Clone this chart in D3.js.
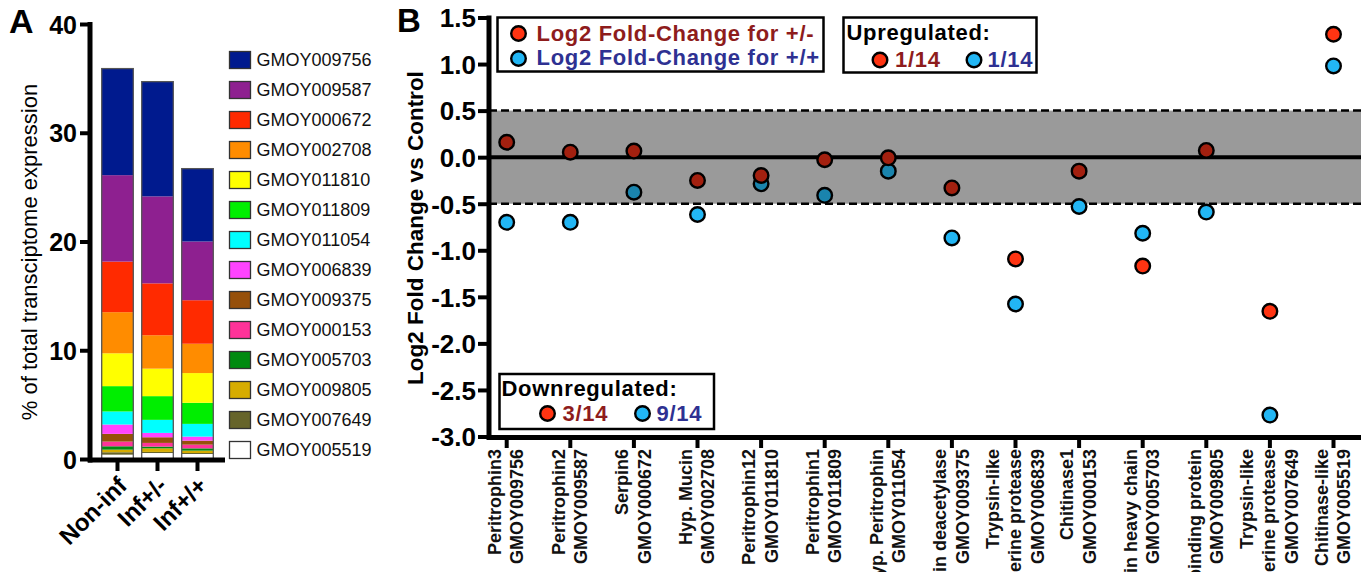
<!DOCTYPE html>
<html>
<head>
<meta charset="utf-8">
<script src="https://cdn.jsdelivr.net/npm/d3@7/dist/d3.min.js"></script>
<style>
  html, body { margin: 0; padding: 0; background: #fff; }
  svg { display: block; font-family: "Liberation Sans", Arial, Helvetica, sans-serif; }
</style>
</head>
<body>
<svg id="chart" width="1361" height="572"></svg>
<script>
// ---------- Panel A data ----------
const groupsA = ["Non-inf", "Inf+/-", "Inf+/+"];
const genesA = ["GMOY009756","GMOY009587","GMOY000672","GMOY002708","GMOY011810","GMOY011809",
  "GMOY011054","GMOY006839","GMOY009375","GMOY000153","GMOY005703","GMOY009805","GMOY007649","GMOY005519"];
const nonInf = [9.8, 7.95, 4.65, 3.78, 3.02, 2.33, 1.20, 0.86, 0.71, 0.43, 0.31, 0.24, 0.22, 0.40];
const infPM  = [10.55, 8.0, 4.77, 3.07, 2.53, 2.18, 1.20, 0.40, 0.52, 0.34, 0.16, 0.33, 0.10, 0.55];
const infPP  = [6.7, 5.4, 4.0, 2.7, 2.73, 1.94, 1.17, 0.37, 0.37, 0.34, 0.21, 0.22, 0.09, 0.46];
const geneColors = ["#001a8e","#8e2090","#ff2a00","#ff8c00","#ffff00","#00ee00","#00ffff",
  "#ff44ff","#96500a","#ff3399","#008a10","#d6ac00","#66642a","#ffffff"];
const yTicksA = [0, 10, 20, 30, 40];

// ---------- Panel B data ----------
const labelsB = [
  ["Peritrophin3","GMOY009756"],
  ["Peritrophin2","GMOY009587"],
  ["Serpin6","GMOY000672"],
  ["Hyp. Mucin","GMOY002708"],
  ["Peritrophin12","GMOY011810"],
  ["Peritrophin1","GMOY011809"],
  ["Hyp. Peritrophin","GMOY011054"],
  ["Chitin deacetylase","GMOY009375"],
  ["Trypsin-like","Serine protease","GMOY006839"],
  ["Chitinase1","GMOY000153"],
  ["Myosin heavy chain","GMOY005703"],
  ["Chitin binding protein","GMOY009805"],
  ["Trypsin-like","Serine protease","GMOY007649"],
  ["Chitinase-like","GMOY005519"]
];
const fcPM = [0.16, 0.054, 0.065, -0.25, -0.197, -0.028, -0.007, -0.33, -1.093, -0.15, -1.17, 0.072, -1.656, 1.32];
const fcPP = [-0.70, -0.70, -0.376, -0.616, -0.286, -0.41, -0.15, -0.867, -1.577, -0.53, -0.817, -0.59, -2.77, 0.98];
const yTicksB = [1.5, 1.0, 0.5, 0.0, -0.5, -1.0, -1.5, -2.0, -2.5, -3.0];
const threshold = 0.5;
const upCounts = ["1/14", "1/14"];
const downCounts = ["3/14", "9/14"];
const legendLabels = ["Log2 Fold-Change for +/-", "Log2 Fold-Change for +/+"];

// ---------- styles ----------
const RED = "#ff3412", RED_DK = "#a3200f", BLUE = "#22b6f4", BLUE_DK = "#1a84ad";
const TXT_RED = "#8e1c1c", TXT_BLUE = "#2e3192";

const svg = d3.select("#chart");

// ================= PANEL A =================
const gA = svg.append("g");
const xA = d3.scaleBand().domain(groupsA).range([97.5, 217.5]).paddingInner(0.21).paddingOuter(0.105);
const yA = d3.scaleLinear().domain([0, 40]).range([459, 24]);

const tableA = groupsA.map((g, gi) => {
  const row = { group: g };
  const src = [nonInf, infPM, infPP][gi];
  genesA.forEach((k, i) => row[k] = src[i]);
  return row;
});
const stackA = d3.stack().keys(genesA.slice().reverse())(tableA);
const colorA = d3.scaleOrdinal().domain(genesA).range(geneColors);

gA.selectAll("g.layer").data(stackA).join("g").attr("class", "layer")
  .attr("fill", d => colorA(d.key))
  .selectAll("rect").data(d => d).join("rect")
  .attr("x", d => xA(d.data.group))
  .attr("width", xA.bandwidth())
  .attr("y", d => yA(d[1]))
  .attr("height", d => yA(d[0]) - yA(d[1]));

// bar outlines
gA.selectAll("rect.outline").data(tableA).join("rect").attr("class", "outline")
  .attr("x", d => xA(d.group))
  .attr("width", xA.bandwidth())
  .attr("y", d => yA(d3.sum(genesA, k => d[k])))
  .attr("height", d => yA(0) - yA(d3.sum(genesA, k => d[k])))
  .attr("fill", "none").attr("stroke", "#555").attr("stroke-width", 1.3);

// y axis A
const axA = gA.append("g").attr("transform", "translate(90,0)")
  .call(d3.axisLeft(yA).tickValues(yTicksA).tickSize(10).tickPadding(3).tickFormat(d3.format("d")));
axA.select(".domain").remove();
axA.selectAll(".tick line").attr("stroke", "#000").attr("stroke-width", 4);
axA.selectAll(".tick text").attr("font-size", 25).attr("font-weight", "bold").attr("fill", "#000")
  .attr("font-family", "Liberation Sans, Arial, sans-serif").attr("dy", "0.36em");
gA.append("line").attr("x1", 90).attr("x2", 90).attr("y1", yA(40) - 2).attr("y2", 462.5)
  .attr("stroke", "#000").attr("stroke-width", 5);

// x axis A
gA.append("line").attr("x1", 88).attr("x2", 225).attr("y1", 460).attr("y2", 460)
  .attr("stroke", "#000").attr("stroke-width", 5);
gA.selectAll("line.xt").data(groupsA).join("line").attr("class", "xt")
  .attr("x1", d => xA(d) + xA.bandwidth() / 2).attr("x2", d => xA(d) + xA.bandwidth() / 2)
  .attr("y1", 460).attr("y2", 471).attr("stroke", "#000").attr("stroke-width", 4);
gA.selectAll("text.xl").data(groupsA).join("text").attr("class", "xl")
  .attr("transform", d => `translate(${xA(d) + xA.bandwidth() / 2 + 11},${487}) rotate(-45)`)
  .attr("text-anchor", "end").attr("font-size", 24).attr("font-weight", "bold").text(d => d);

// y title A
gA.append("text").attr("transform", "translate(37,252) rotate(-90)")
  .attr("text-anchor", "middle").attr("font-size", 22).text("% of total transciptome expression");

// panel letter A
svg.append("text").attr("x", 9).attr("y", 33).attr("font-size", 34).attr("font-weight", "bold").text("A");

// legend A
const legA = gA.selectAll("g.legA").data(genesA).join("g").attr("class", "legA")
  .attr("transform", (d, i) => `translate(229.5,${60 + i * 30})`);
legA.append("rect").attr("x", 0).attr("y", -8.5).attr("width", 21).attr("height", 17)
  .attr("fill", d => colorA(d)).attr("stroke", "#333").attr("stroke-width", 1.3);
legA.append("text").attr("x", 27).attr("y", 0).attr("dy", "0.36em").attr("font-size", 18)
  .attr("fill", "#111").text(d => d);

// ================= PANEL B =================
const gB = svg.append("g");
const xB = d3.scalePoint().domain(d3.range(labelsB.length)).range([506.7, 1333.5]);
const yB = d3.scaleLinear().domain([-3, 1.5]).range([436.5, 17.5]);

// band
gB.append("rect").attr("x", 489).attr("width", 1361 - 489)
  .attr("y", yB(threshold)).attr("height", yB(-threshold) - yB(threshold)).attr("fill", "#9a9a9a");
[threshold, -threshold].forEach(v => {
  gB.append("line").attr("x1", 489).attr("x2", 1361).attr("y1", yB(v)).attr("y2", yB(v))
    .attr("stroke", "#000").attr("stroke-width", 2.5).attr("stroke-dasharray", "8,4");
});
gB.append("line").attr("x1", 489).attr("x2", 1361).attr("y1", yB(0)).attr("y2", yB(0))
  .attr("stroke", "#000").attr("stroke-width", 4);

// y axis B
const axB = gB.append("g").attr("transform", "translate(489,0)")
  .call(d3.axisLeft(yB).tickValues(yTicksB).tickSize(11).tickPadding(2)
    .tickFormat(d => d3.format(".1f")(d).replace("−", "-")));
axB.select(".domain").remove();
axB.selectAll(".tick line").attr("stroke", "#000").attr("stroke-width", 4);
axB.selectAll(".tick text").attr("font-size", 26).attr("font-weight", "bold").attr("fill", "#000")
  .attr("font-family", "Liberation Sans, Arial, sans-serif").attr("dy", "0.36em");
gB.append("line").attr("x1", 489).attr("x2", 489).attr("y1", yB(1.5) - 2).attr("y2", 440)
  .attr("stroke", "#000").attr("stroke-width", 5);

// x axis B
gB.append("line").attr("x1", 487).attr("x2", 1361).attr("y1", 437.5).attr("y2", 437.5)
  .attr("stroke", "#000").attr("stroke-width", 5);
gB.selectAll("line.xtb").data(d3.range(labelsB.length)).join("line").attr("class", "xtb")
  .attr("x1", d => xB(d)).attr("x2", d => xB(d)).attr("y1", 437.5).attr("y2", 448)
  .attr("stroke", "#000").attr("stroke-width", 4);
const xlab = gB.selectAll("g.xlb").data(labelsB).join("g").attr("class", "xlb");
xlab.each(function (lines, i) {
  const n = lines.length;
  d3.select(this).selectAll("text").data(lines).join("text")
    .attr("transform", (t, j) => `translate(${xB(i) + (j - (n - 1) / 2) * 22.5 - 1 + 6.5},449) rotate(-90)`)
    .attr("text-anchor", "end").attr("font-size", 18).attr("font-weight", "bold").attr("fill", "#111")
    .text(t => t);
});

// y title B
gB.append("text").attr("transform", "translate(423,228) rotate(-90)")
  .attr("text-anchor", "middle").attr("font-size", 22.5).attr("font-weight", "bold")
  .text("Log2 Fold Change vs Control");

// panel letter B
svg.append("text").attr("x", 397).attr("y", 32).attr("font-size", 33).attr("font-weight", "bold").text("B");

// data dots
const inBand = v => Math.abs(v) < threshold;
gB.selectAll("circle.pp").data(fcPP).join("circle").attr("class", "pp")
  .attr("cx", (d, i) => xB(i)).attr("cy", d => yB(d)).attr("r", 7.3)
  .attr("fill", d => inBand(d) ? BLUE_DK : BLUE).attr("stroke", "#000").attr("stroke-width", 2.4);
gB.selectAll("circle.pm").data(fcPM).join("circle").attr("class", "pm")
  .attr("cx", (d, i) => xB(i)).attr("cy", d => yB(d)).attr("r", 7.3)
  .attr("fill", d => inBand(d) ? RED_DK : RED).attr("stroke", "#000").attr("stroke-width", 2.4);

// legends B
function box(x, y, w, h) {
  gB.append("rect").attr("x", x).attr("y", y).attr("width", w).attr("height", h)
    .attr("fill", "#fff").attr("stroke", "#000").attr("stroke-width", 2.5);
}
function dot(cx, cy, c) {
  gB.append("circle").attr("cx", cx).attr("cy", cy).attr("r", 7.3).attr("fill", c)
    .attr("stroke", "#000").attr("stroke-width", 2.4);
}
function txt(x, y, s, c) {
  gB.append("text").attr("x", x).attr("y", y).attr("font-size", 22).attr("font-weight", "bold")
    .attr("letter-spacing", "0.7px").attr("fill", c).text(s);
}
box(497.5, 17.5, 326, 54);
dot(518.5, 33.5, RED); txt(536.5, 40.5, legendLabels[0], TXT_RED);
dot(518.5, 58.5, BLUE); txt(536.5, 64.5, legendLabels[1], TXT_BLUE);

box(843.5, 17.5, 193, 55);
txt(846.5, 40, "Upregulated:", "#000");
dot(880, 60, RED); txt(895, 66.5, upCounts[0], TXT_RED);
dot(974, 60, BLUE); txt(987.5, 66.5, upCounts[1], TXT_BLUE);

box(499.5, 374, 214.5, 55);
txt(501.5, 395.5, "Downregulated:", "#000");
dot(547.5, 413.5, RED); txt(562.5, 420.5, downCounts[0], TXT_RED);
dot(642.5, 413.5, BLUE); txt(656.5, 420.5, downCounts[1], TXT_BLUE);
</script>
</body>
</html>
